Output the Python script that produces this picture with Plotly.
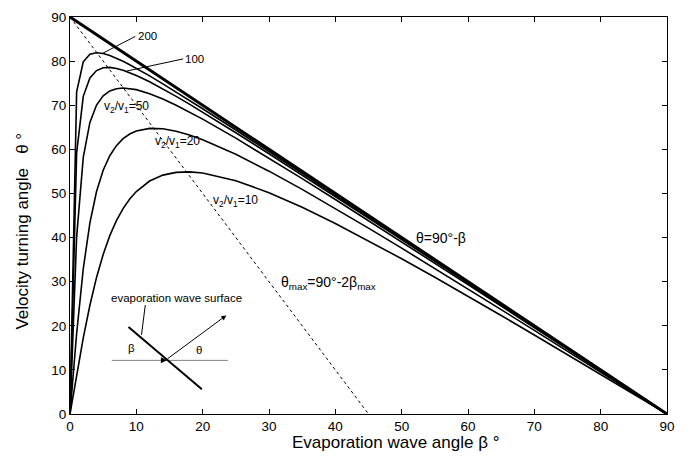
import plotly.graph_objects as go

# ---- data ----
beta = [0, 1, 2, 3, 4, 5, 6, 7, 8, 9, 10, 12, 14, 16, 18, 20, 25, 30, 35, 40, 45,
        50, 55, 60, 65, 70, 75, 80, 85, 90]
theta_r10 = [0, 8.90, 17.25, 24.66, 30.96, 36.18, 40.43, 43.84, 46.57, 48.73, 50.44,
             52.81, 54.15, 54.77, 54.89, 54.64, 52.90, 50.17, 46.87, 43.20, 39.29,
             35.20, 30.99, 26.70, 22.33, 17.92, 13.47, 8.99, 4.50, 0]
theta_r20 = [0, 18.24, 32.93, 43.35, 50.43, 55.25, 58.56, 60.84, 62.42, 63.48, 64.17,
             64.76, 64.66, 64.11, 63.25, 62.18, 58.88, 55.05, 50.92, 46.59, 42.14,
             37.60, 33.00, 28.35, 23.66, 18.96, 14.23, 9.49, 4.75, 0]
theta_r50 = [0, 40.11, 58.20, 66.11, 70.04, 72.12, 73.23, 73.75, 73.90, 73.80, 73.53,
             72.62, 71.41, 70.01, 68.48, 66.85, 62.54, 58.02, 53.36, 48.63, 43.85,
             39.04, 34.20, 29.34, 24.47, 19.58, 14.69, 9.80, 4.90, 0]
theta_r100 = [0, 59.19, 72.02, 76.20, 77.86, 78.48, 78.57, 78.34, 77.93, 77.39, 76.75,
              75.31, 73.70, 72.00, 70.24, 68.43, 63.77, 59.01, 54.18, 49.32, 44.43,
              39.52, 34.60, 29.67, 24.73, 19.79, 14.85, 9.90, 4.95, 0]
theta_r200 = [0, 73.02, 79.85, 81.55, 81.91, 81.73, 81.28, 80.67, 79.96, 79.19, 78.38,
              76.65, 74.85, 73.00, 71.12, 69.21, 64.39, 59.50, 54.59, 49.66, 44.71,
              39.76, 34.80, 29.83, 24.87, 19.90, 14.92, 9.95, 4.97, 0]

limit_beta = [0, 90]
limit_theta = [90, 0]
tmax_beta = [0, 45]
tmax_theta = [90, 0]

ticks = [0, 10, 20, 30, 40, 50, 60, 70, 80, 90]

FONT = "Arial, 'Liberation Sans', sans-serif"

fig = go.Figure()
for th in [theta_r10, theta_r20, theta_r50, theta_r100, theta_r200]:
    fig.add_trace(go.Scatter(x=beta, y=th, mode="lines",
                             line=dict(color="black", width=1.6),
                             showlegend=False, hoverinfo="skip"))
fig.add_trace(go.Scatter(x=limit_beta, y=limit_theta, mode="lines",
                         line=dict(color="black", width=3), showlegend=False,
                         hoverinfo="skip"))
fig.add_trace(go.Scatter(x=tmax_beta, y=tmax_theta, mode="lines",
                         line=dict(color="black", width=1, dash="3px,3px"),
                         showlegend=False, hoverinfo="skip"))

ann = []
def txt(x, y, s, size=12, xanchor="center", yanchor="middle"):
    ann.append(dict(x=x, y=y, xref="x", yref="y", text=s, showarrow=False,
                    font=dict(family=FONT, size=size, color="black"),
                    xanchor=xanchor, yanchor=yanchor))

txt(9.9, 85.6, "200", 11.5, xanchor="left")
txt(17.1, 80.5, "100", 11.5, xanchor="left")
txt(8.45, 69.6, "v<sub>2</sub>/v<sub>1</sub>=50", 12)
txt(16.2, 61.6, "v<sub>2</sub>/v<sub>1</sub>=20", 12)
txt(25.0, 48.4, "v<sub>2</sub>/v<sub>1</sub>=10", 12)
txt(56.0, 39.8, "θ=90°-β", 14)
txt(38.9, 29.6, "θ<sub>max</sub>=90°-2β<sub>max</sub>", 14)
txt(16.1, 26.4, "evaporation wave surface", 11.5)
txt(9.2, 14.9, "β", 11.5)
txt(19.4, 14.6, "θ", 11.5)

# inset arrows
ann.append(dict(x=23.56, y=22.35, ax=14.5, ay=12.3, xref="x", yref="y",
                axref="x", ayref="y", showarrow=True, arrowhead=2,
                arrowsize=1, arrowwidth=1, arrowcolor="black", text=""))
ann.append(dict(x=14.6, y=12.16, ax=-7, ay=0, xref="x", yref="y",
                showarrow=True, arrowhead=2, arrowsize=1.2, arrowwidth=1,
                arrowcolor="black", text=""))

# axis titles
ann.append(dict(x=0.546, y=-0.073, xref="paper", yref="paper",
                text="Evaporation wave angle β °", showarrow=False,
                font=dict(family=FONT, size=17, color="black"),
                xanchor="center", yanchor="middle"))
ann.append(dict(x=-0.08, y=0.46, xref="paper", yref="paper",
                text="Velocity turning angle   θ °", showarrow=False,
                textangle=-90,
                font=dict(family=FONT, size=17, color="black"),
                xanchor="center", yanchor="middle"))

shapes = [
    # leaders for 200 and 100
    dict(type="line", xref="x", yref="y", x0=9.85, y0=85.6, x1=4.9, y1=81.75,
         line=dict(color="black", width=1)),
    dict(type="line", xref="x", yref="y", x0=17.05, y0=80.5, x1=8.52, y1=77.74,
         line=dict(color="black", width=1)),
    # inset: horizontal reference line
    dict(type="line", xref="x", yref="y", x0=6.3, y0=12.16, x1=23.8, y1=12.16,
         line=dict(color="#808080", width=1)),
    # inset: wave surface
    dict(type="line", xref="x", yref="y", x0=8.82, y0=19.74, x1=19.88, y1=5.62,
         line=dict(color="black", width=2)),
    # inset: leader to surface label
    dict(type="line", xref="x", yref="y", x0=10.78, y0=17.96, x1=11.35, y1=24.7,
         line=dict(color="black", width=1)),
]

fig.update_layout(
    width=687, height=459,
    margin=dict(l=70, r=20, t=10, b=45),
    paper_bgcolor="white", plot_bgcolor="white",
    annotations=ann, shapes=shapes,
    font=dict(family=FONT, size=13, color="black"),
    xaxis=dict(range=[0, 90], tickvals=ticks, ticks="inside", ticklen=5,
               tickcolor="black", showline=True, linecolor="black", linewidth=1,
               mirror="ticks", showgrid=False, zeroline=False,
               tickfont=dict(family=FONT, size=13.5, color="black")),
    yaxis=dict(range=[0, 90], tickvals=ticks, ticks="inside", ticklen=5,
               tickcolor="black", showline=True, linecolor="black", linewidth=1,
               mirror="ticks", showgrid=False, zeroline=False,
               tickfont=dict(family=FONT, size=13.5, color="black")),
)

fig.write_html("out.html")
